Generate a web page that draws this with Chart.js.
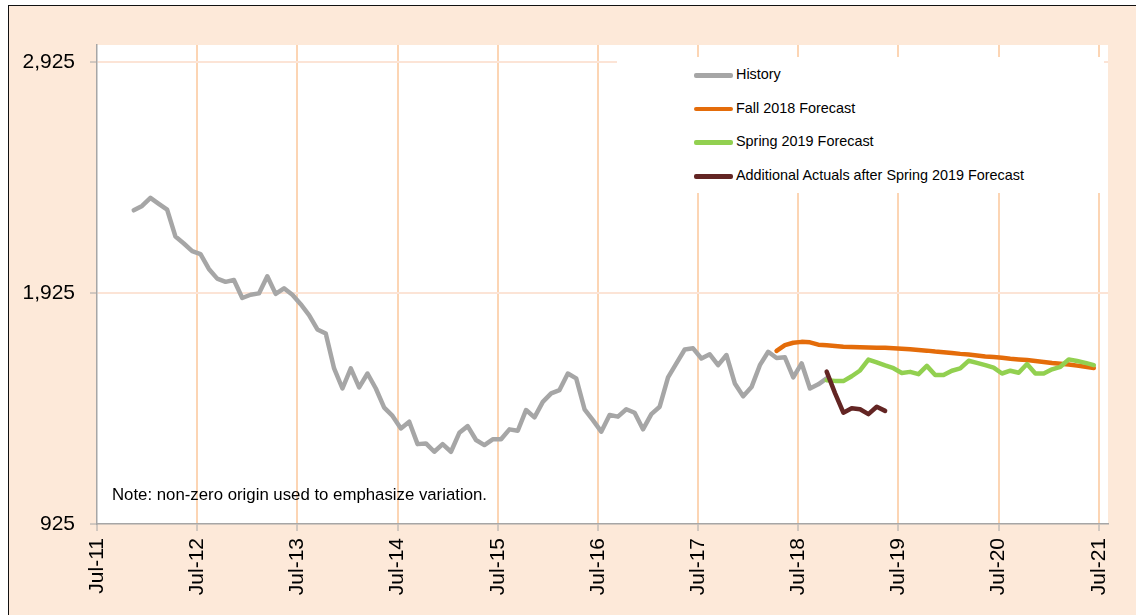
<!DOCTYPE html>
<html>
<head>
<meta charset="utf-8">
<script src="https://cdn.jsdelivr.net/npm/chart.js@4/dist/chart.umd.min.js"></script>
<style>
    body { margin: 0; background: #fff; font-family: 'Liberation Sans', Arial, sans-serif; }
    #frame { position: absolute; left: 8px; top: 5px; width: 1140px; height: 620px;
             border: 1.5px solid #111; background: #fde9d9; }
    #chart { position: absolute; left: 0; top: 0; }
    #legend { position: absolute; left: 617px; top: 57px; width: 487px; height: 136px; background: #fff; }
    .item { position: absolute; left: 0; height: 20px; font-size: 14.4px; color: #000; }
    .item .swatch { position: absolute; left: 77px; top: 8px; width: 39px; height: 4.5px; border-radius: 2px; }
    .item .label { position: absolute; left: 119px; top: 1px; white-space: nowrap; }
    #note { position: absolute; left: 112px; top: 485px; font-size: 16.8px; color: #000; white-space: nowrap; }
</style>
</head>
<body>
<div id="frame"></div>
<canvas id="chart" width="1136" height="615"></canvas>
<div id="legend"></div>
<div id="note">Note: non-zero origin used to emphasize variation.</div>

<script>
// Axis labels (one every 12 months, starting Jul-11)
const tickLabels = ['Jul-11', 'Jul-12', 'Jul-13', 'Jul-14', 'Jul-15', 'Jul-16',
                    'Jul-17', 'Jul-18', 'Jul-19', 'Jul-20', 'Jul-21'];
const yTicks = [925, 1925, 2925];

// Monthly series; *Start = months after Jul-11 of the first value
const historyStart = 4;
const historyValues = [
    2284, 2303, 2338, 2312, 2287, 2170, 2140, 2107, 2094, 2030,
    1988, 1974, 1982, 1904, 1918, 1924, 1998, 1922, 1946, 1918,
    1877, 1830, 1768, 1750, 1599, 1512, 1599, 1517, 1577, 1512,
    1429, 1393, 1339, 1368, 1271, 1274, 1238, 1271, 1238, 1320,
    1349, 1289, 1267, 1292, 1292, 1335, 1329, 1419, 1387, 1454,
    1491, 1505, 1577, 1556, 1422, 1375, 1325, 1397, 1390, 1422,
    1407, 1335, 1401, 1433, 1560, 1621, 1681, 1686, 1642, 1660,
    1613, 1657, 1534, 1478, 1518, 1613, 1671, 1644, 1647, 1560,
    1621, 1512, 1530, 1556
];

const fallStart = 81;
const fallValues = [
    1675, 1700, 1710, 1714, 1712, 1702, 1699, 1696, 1693, 1692,
    1691, 1690, 1689, 1688, 1686, 1684, 1682, 1679, 1676, 1672,
    1669, 1666, 1662, 1659, 1655, 1651, 1648, 1645, 1641, 1638,
    1635, 1631, 1627, 1622, 1619, 1616, 1611, 1606, 1601
];

const springStart = 87;
const springValues = [
    1548, 1545, 1544, 1565, 1590, 1637, 1625, 1612, 1600, 1579,
    1584, 1574, 1610, 1570, 1570, 1589, 1599, 1632, 1623, 1613,
    1602, 1577, 1589, 1580, 1618, 1577, 1577, 1595, 1606, 1638,
    1631, 1623, 1613
];

const actualsStart = 87;
const actualsValues = [1585, 1492, 1407, 1426, 1422, 1401, 1433, 1415];

// points are dated mid-month, ticks sit on the 1st
const POINT_OFFSET = 0.4;

function toPoints(start, values) {
    return values.map((v, i) => ({ x: start + i + POINT_OFFSET, y: v }));
}

const FONT = "'Liberation Sans', Arial, sans-serif";

function lineSet(label, color, start, values, order) {
    return {
        label: label,
        data: toPoints(start, values),
        borderColor: color,
        backgroundColor: color,
        borderWidth: 4.5,
        pointRadius: 0,
        tension: 0,
        borderCapStyle: 'round',
        borderJoinStyle: 'round',
        order: order
    };
}

// white plot area
const plotBackground = {
    id: 'plotBackground',
    beforeDraw(chart) {
        const { ctx, chartArea: a } = chart;
        ctx.save();
        ctx.fillStyle = '#ffffff';
        ctx.fillRect(a.left, a.top, a.right - a.left, a.bottom - a.top);
        ctx.restore();
    }
};

const chart = new Chart(document.getElementById('chart'), {
    type: 'line',
    data: {
        datasets: [
            lineSet('History', '#a6a6a6', historyStart, historyValues, 4),
            lineSet('Fall 2018 Forecast', '#e46c0a', fallStart, fallValues, 3),
            lineSet('Spring 2019 Forecast', '#92d050', springStart, springValues, 2),
            lineSet('Additional Actuals after Spring 2019 Forecast', '#632523', actualsStart, actualsValues, 1)
        ]
    },
    options: {
        responsive: false,
        animation: false,
        layout: { padding: { top: 45, right: 28, left: 0, bottom: 0 } },
        plugins: {
            legend: { display: false },
            tooltip: { enabled: false }
        },
        scales: {
            x: {
                type: 'linear',
                min: 0,
                max: 121.1,
                afterBuildTicks: s => { s.ticks = tickLabels.map((_, i) => ({ value: i * 12 })); },
                afterFit: s => { s.height = 91; s.paddingLeft = 0; s.paddingRight = 0; },
                ticks: {
                    callback: (v, i) => tickLabels[i],
                    minRotation: 90,
                    maxRotation: 90,
                    autoSkip: false,
                    padding: 7,
                    color: '#000',
                    font: { family: FONT, size: 21 }
                },
                grid: {
                    color: c => c.index === 0 ? 'rgba(0,0,0,0)' : '#fcd5b4',
                    lineWidth: 2,
                    tickLength: 7,
                    tickColor: '#a6a6a6',
                    tickWidth: 1
                },
                border: { color: '#a6a6a6', width: 1.5 }
            },
            y: {
                min: 925,
                max: 3000,
                afterBuildTicks: s => { s.ticks = yTicks.map(v => ({ value: v })); },
                afterFit: s => { s.width = 97; },
                ticks: {
                    callback: v => v.toLocaleString('en-US'),
                    padding: 15,
                    color: '#000',
                    font: { family: FONT, size: 21 }
                },
                grid: {
                    color: c => c.index === 0 ? 'rgba(0,0,0,0)' : '#fce4d6',
                    lineWidth: 2,
                    tickLength: 7,
                    tickColor: '#a6a6a6',
                    tickWidth: 1
                },
                border: { color: '#a6a6a6', width: 1.5 }
            }
        }
    },
    plugins: [plotBackground]
});

// Build legend from the datasets
function buildLegend() {
    const box = document.getElementById('legend');
    box.innerHTML = '';
    chart.data.datasets.forEach((ds, i) => {
        const row = document.createElement('div');
        row.className = 'item';
        row.style.top = (8 + i * 33.7) + 'px';
        row.innerHTML = `
            <span class="swatch" style="background:${ds.borderColor}"></span>
            <span class="label">${ds.label}</span>
        `;
        box.appendChild(row);
    });
}

buildLegend();
</script>
</body>
</html>
